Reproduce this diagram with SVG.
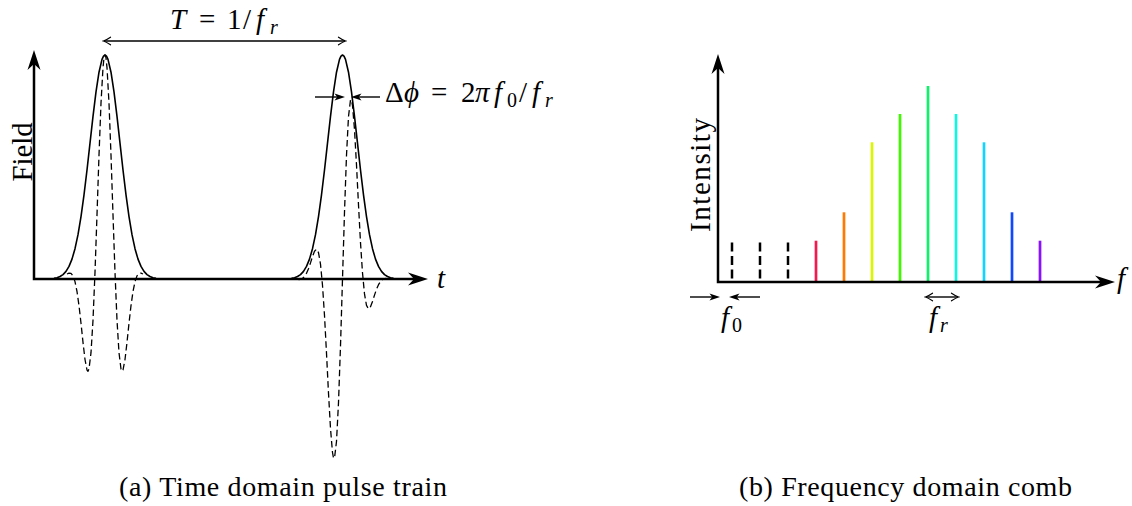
<svg xmlns="http://www.w3.org/2000/svg" xmlns:xlink="http://www.w3.org/1999/xlink" width="1132" height="506" viewBox="0 0 1132 506">
<style>
  text { font-family: "Liberation Serif", "DejaVu Serif", serif; fill: #000; }
  .m { font-size: 29px; }
  .it { font-style: italic; }
  .sub { font-size: 20px; }
  .cap { font-size: 28px; }
  .axis { stroke: #000; stroke-width: 2.5; fill: none; }
  .env { stroke: #000; stroke-width: 1.6; fill: none; stroke-linejoin: round; }
  .carrier { stroke: #000; stroke-width: 1.3; fill: none; stroke-dasharray: 6.5 3.5; stroke-linejoin: round; }
  .ann { stroke: #000; stroke-width: 1.4; fill: none; }
  .dash { stroke: #000; stroke-width: 2.5; stroke-dasharray: 9 4.5; }
  .comb { stroke-width: 2.7; }
</style>
<defs>
  <marker id="axhead" markerUnits="userSpaceOnUse" viewBox="-10 -8 24 16" markerWidth="24" markerHeight="16" refX="0" refY="0" orient="auto-start-reverse">
    <path d="M12,0 L-8,-6.5 L-2,0 L-8,6.5 Z" fill="#000"/>
  </marker>
  <marker id="small" markerUnits="userSpaceOnUse" viewBox="-8 -5 14 10" markerWidth="14" markerHeight="10" refX="0" refY="0" orient="auto-start-reverse">
    <path d="M4,0 L-6.5,-3.6 L-3.8,0 L-6.5,3.6 Z" fill="#000"/>
  </marker>
  <marker id="open" markerUnits="userSpaceOnUse" viewBox="-8 -5 10 10" markerWidth="10" markerHeight="10" refX="0" refY="0" orient="auto-start-reverse">
    <path d="M-6.5,-3.8 Q-2,-0.8 0.6,0 Q-2,0.8 -6.5,3.8" fill="none" stroke="#000" stroke-width="1.2" stroke-linecap="round"/>
  </marker>
  <path id="envelope" d="M-51,278.4 L-48,277.7 L-45,276.5 L-42,274.6 L-39,271.4 L-36,266.4 L-33,259.1 L-30,248.7 L-27,234.7 L-24,216.7 L-21,194.9 L-18,170 L-15,143.1 L-12,116.4 L-9,91.9 L-6,72.2 L-3,59.4 L-1.5,56.1 L0,55 L1.5,56.1 L3,59.4 L6,72.2 L9,91.9 L12,116.4 L15,143.1 L18,170 L21,194.9 L24,216.7 L27,234.7 L30,248.7 L33,259.1 L36,266.4 L39,271.4 L42,274.6 L45,276.5 L48,277.7 L51,278.4"/>
</defs>

<g id="panel-a">
  <g id="pulse-1">
    <use xlink:href="#envelope" href="#envelope" x="105" class="env"/>
    <path class="carrier" transform="translate(105,0)" d="M-38,274 L-36,273.1 L-34,273.4 L-32,275.9 L-30,281.6 L-28,291.5 L-26,305.6 L-24,323.2 L-22,342.4 L-20,359.5 L-18,370 L-17,371.3 L-16,369 L-14,352.7 L-12,320.2 L-10,272.4 L-8,214.8 L-6,155.1 L-4,103.1 L-2,67.6 L-1,57.9 L0,55 L1,57.9 L2,67.6 L4,103.1 L6,155.1 L8,214.8 L10,272.4 L12,320.2 L14,352.7 L16,369 L17,371.3 L18,370 L20,359.5 L22,342.4 L24,323.2 L26,305.6 L28,291.5 L30,281.6 L32,275.9 L34,273.4 L36,273.1 L38,274"/>
  </g>
  <g id="pulse-2">
    <use xlink:href="#envelope" href="#envelope" x="342.5" class="env"/>
    <path class="carrier" transform="translate(342.5,0)" d="M-44,279.7 L-42,279.4 L-40,278.4 L-38,276.5 L-36,273.3 L-34,268.7 L-32,262.9 L-30,256.6 L-28,251.3 L-26,249.2 L-24,252.6 L-22,264.1 L-20,285.2 L-18,315.4 L-16,353.1 L-14,393.1 L-12,428.5 L-10,452.5 L-9,457.9 L-8,458.1 L-6,441.5 L-4,402.7 L-2,345.9 L0,279 L2,212.1 L4,155.3 L6,116.5 L8,99.9 L9,100.1 L10,105.5 L12,129.5 L14,164.9 L16,204.9 L18,242.6 L20,272.8 L22,293.9 L24,305.4 L26,308.8 L28,306.7 L30,301.4 L32,295.1 L34,289.3 L36,284.7 L38,281.5 L40,279.6 L42,278.6 L44,278.3"/>
  </g>
  <g id="axes-a">
    <path class="axis" d="M34,62 V279 H416" marker-start="url(#axhead)" marker-end="url(#axhead)"/>
    <text class="m it" x="437" y="288">t</text>
    <text class="m" transform="translate(32,152) rotate(-90)" text-anchor="middle" textLength="59" lengthAdjust="spacingAndGlyphs">Field</text>
  </g>
  <g id="period-label">
    <text class="m" y="29"><tspan x="170" class="it">T</tspan><tspan x="199">=</tspan><tspan x="227">1</tspan><tspan x="243">/</tspan><tspan x="256" class="it">f</tspan><tspan class="it sub" x="270" y="34">r</tspan></text>
  </g>
  <g id="phase-label">
    <text class="m" y="102"><tspan x="385">Δ</tspan><tspan x="404" class="it">ϕ</tspan><tspan x="431">=</tspan><tspan x="461">2</tspan><tspan x="475" class="it">π</tspan><tspan x="494" class="it">f</tspan><tspan class="sub" x="507" y="107">0</tspan><tspan x="519" y="102">/</tspan><tspan x="532" class="it">f</tspan><tspan class="it sub" x="545" y="107">r</tspan></text>
  </g>
  <text class="cap" x="283" y="496" text-anchor="middle" textLength="328" lengthAdjust="spacing">(a) Time domain pulse train</text>
</g>

<g id="connectors-a">
  <line class="ann" x1="104" y1="41" x2="345" y2="41" marker-start="url(#open)" marker-end="url(#open)"/>
  <line class="ann" x1="315" y1="97" x2="341" y2="97" marker-end="url(#small)"/>
  <line class="ann" x1="380" y1="97" x2="355" y2="97" marker-end="url(#small)"/>
</g>

<g id="panel-b">
  <g id="comb">
    <line class="dash" x1="732" y1="242.5" x2="732" y2="282"/>
    <line class="dash" x1="760" y1="242.5" x2="760" y2="282"/>
    <line class="dash" x1="788" y1="242.5" x2="788" y2="282"/>
    <line class="comb" x1="816" y1="240.7" x2="816" y2="282" stroke="#f5174f"/>
    <line class="comb" x1="844" y1="212.3" x2="844" y2="282" stroke="#ff7a00"/>
    <line class="comb" x1="872" y1="142.3" x2="872" y2="282" stroke="#dcf500"/>
    <line class="comb" x1="900" y1="114" x2="900" y2="282" stroke="#42f500"/>
    <line class="comb" x1="928" y1="86" x2="928" y2="282" stroke="#10f06a"/>
    <line class="comb" x1="956" y1="114" x2="956" y2="282" stroke="#12f5de"/>
    <line class="comb" x1="984" y1="142.3" x2="984" y2="282" stroke="#14d4ff"/>
    <line class="comb" x1="1012" y1="212.3" x2="1012" y2="282" stroke="#1048ff"/>
    <line class="comb" x1="1040" y1="240.7" x2="1040" y2="282" stroke="#8a10ff"/>
  </g>
  <g id="axes-b">
    <path class="axis" d="M718,66 V282 H1103" marker-start="url(#axhead)" marker-end="url(#axhead)"/>
    <text class="m it" x="1117" y="288">f</text>
    <text class="m" transform="translate(710,175) rotate(-90)" text-anchor="middle" textLength="114" lengthAdjust="spacing">Intensity</text>
  </g>
  <g id="f0-label">
    <text class="m" y="327"><tspan x="721" class="it">f</tspan><tspan class="sub" x="732" y="332">0</tspan></text>
  </g>
  <g id="fr-label">
    <text class="m" y="327"><tspan x="929" class="it">f</tspan><tspan class="it sub" x="940" y="332">r</tspan></text>
  </g>
  <text class="cap" x="905.5" y="496" text-anchor="middle" textLength="333" lengthAdjust="spacing">(b) Frequency domain comb</text>
</g>

<g id="connectors-b">
  <line class="ann" x1="690" y1="297" x2="716" y2="297" marker-end="url(#small)"/>
  <line class="ann" x1="760" y1="297" x2="733" y2="297" marker-end="url(#small)"/>
  <line class="ann" x1="926" y1="297" x2="958" y2="297" marker-start="url(#open)" marker-end="url(#open)"/>
</g>
</svg>
